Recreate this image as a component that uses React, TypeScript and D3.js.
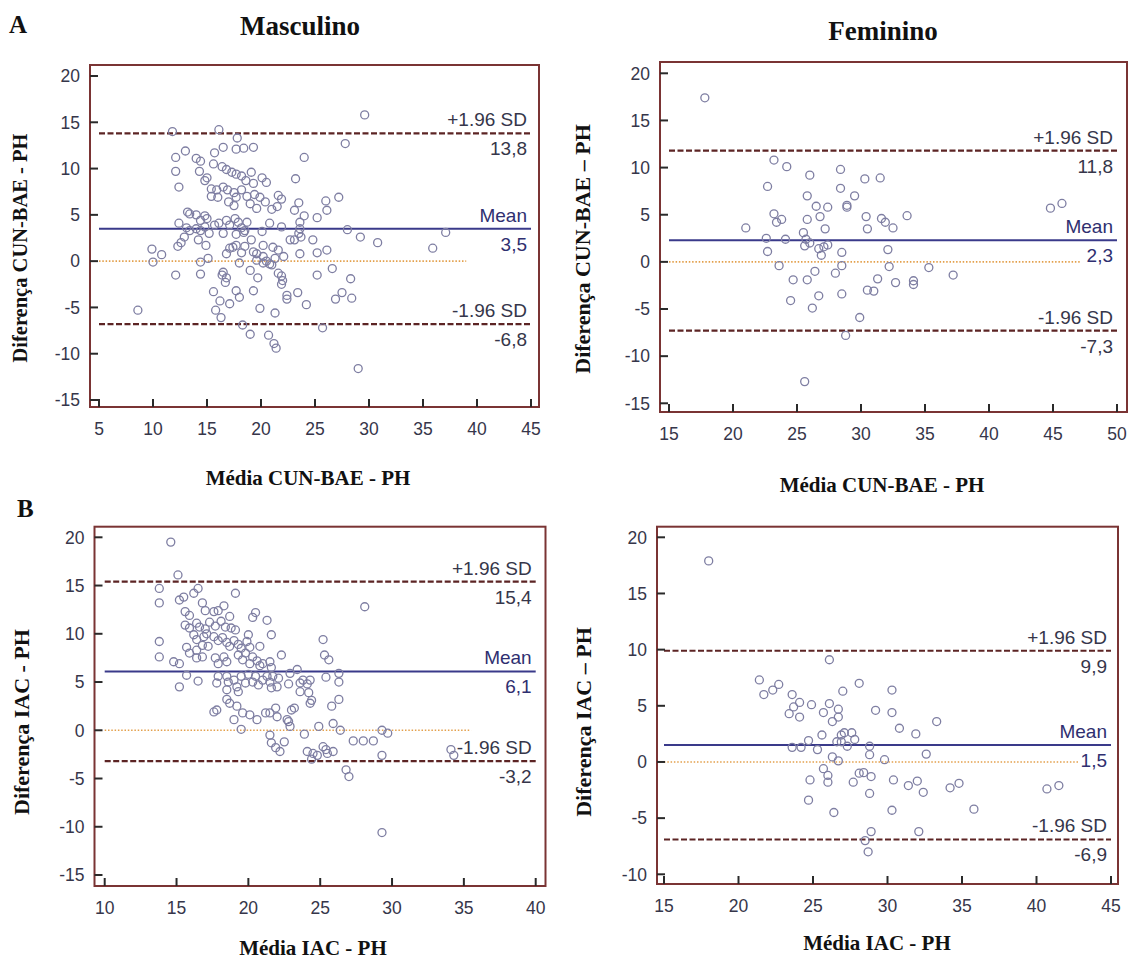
import React from "react";
import * as d3 from "d3";

// ---------- DATA ----------
const aMaleData: [number, number][] = [
  [11.8, 14.0], [16.1, 14.2], [17.8, 13.3], [27.8, 12.7], [13.0, 11.9], [12.1, 11.2], [15.7, 11.7], [16.5, 12.3],
  [17.7, 12.1], [18.4, 12.2], [19.3, 12.3], [24.0, 11.2], [12.1, 9.7], [14.0, 11.1], [14.4, 10.8], [14.3, 9.7],
  [15.6, 10.5], [16.4, 10.2], [16.8, 9.9], [17.3, 9.6], [17.7, 9.4], [19.1, 9.6], [18.2, 9.2], [18.6, 8.7],
  [19.3, 8.4], [20.1, 9.0], [20.5, 8.5], [12.4, 8.0], [14.8, 8.7], [15.0, 9.0], [15.4, 7.8], [15.9, 7.7],
  [16.5, 8.0], [16.9, 7.7], [17.5, 7.4], [18.2, 7.7], [17.7, 6.9], [15.4, 7.0], [16.0, 6.9], [17.0, 6.4],
  [17.5, 6.0], [18.7, 7.0], [19.4, 7.2], [19.9, 6.9], [20.4, 6.4], [21.0, 5.6], [21.5, 5.9], [21.6, 7.1],
  [21.9, 6.7], [23.2, 8.9], [23.5, 6.3], [23.1, 5.5], [24.0, 4.9], [23.6, 4.2], [25.2, 4.7], [26.0, 6.5],
  [26.1, 5.5], [27.2, 6.9], [19.6, 5.7], [19.0, 6.2], [13.2, 5.3], [13.4, 5.1], [14.0, 5.0], [14.4, 4.4],
  [14.8, 4.9], [15.0, 4.6], [12.4, 4.1], [13.1, 3.6], [13.4, 3.3], [14.0, 3.5], [14.4, 3.3], [14.8, 3.7],
  [15.2, 3.0], [15.7, 3.9], [16.1, 4.1], [16.5, 3.0], [16.8, 4.4], [17.1, 3.9], [17.6, 4.6], [17.9, 4.2],
  [18.2, 3.6], [18.5, 3.3], [18.7, 4.2], [17.7, 2.9], [18.4, 3.1], [20.1, 3.2], [20.8, 4.1], [21.9, 3.7],
  [23.6, 3.5], [23.5, 3.0], [23.1, 2.3], [23.7, 2.6], [24.8, 2.3], [28.0, 3.4], [9.9, 1.3], [10.8, 0.7],
  [12.3, 1.6], [12.6, 2.0], [12.9, 2.6], [14.2, 2.3], [14.9, 1.7], [15.1, 0.3], [17.1, 1.4], [16.8, 0.8],
  [17.4, 1.5], [17.7, 1.7], [18.2, 0.9], [18.5, 1.6], [19.3, 1.0], [19.6, 0.8], [19.1, 2.3], [20.2, 1.7],
  [21.1, 1.5], [21.6, 1.2], [20.2, 0.5], [19.6, 0.1], [20.5, 0.0], [21.3, 0.3], [21.0, -0.4], [22.1, 0.5],
  [22.7, 2.3], [23.6, 0.8], [25.2, 0.9], [26.1, 1.2], [26.6, -0.8], [25.2, -1.5], [10.0, -0.1], [14.4, -0.1],
  [18.0, -0.2], [20.2, -0.2], [20.8, -0.3], [12.1, -1.5], [14.4, -1.4], [16.5, -1.2], [16.4, -1.5], [16.8, -1.8],
  [16.7, -2.3], [19.0, -1.0], [19.7, -1.8], [21.6, -1.3], [21.9, -1.6], [22.0, -2.1], [21.9, -2.5], [22.4, -3.7],
  [22.4, -4.1], [23.4, -3.4], [24.2, -4.7], [26.9, -4.1], [27.5, -3.4], [15.6, -3.3], [16.2, -4.3], [17.7, -3.2],
  [18.0, -3.9], [19.3, -3.2], [17.1, -4.6], [15.8, -5.3], [16.3, -6.1], [19.9, -5.1], [21.3, -5.6], [8.6, -5.3],
  [18.3, -6.9], [19.0, -7.9], [20.7, -8.0], [25.7, -7.2], [29.6, 15.8], [29.2, 2.6], [30.8, 2.0], [35.9, 1.4],
  [37.1, 3.1], [28.3, -1.9], [28.4, -4.0], [29.0, -11.6], [21.2, -8.9], [21.4, -9.4],
];

const aFemaleData: [number, number][] = [
  [17.8, 17.4], [23.2, 10.8], [24.2, 10.1], [26.0, 9.2], [28.4, 9.8], [22.7, 8.0], [28.4, 7.8], [30.3, 8.8],
  [31.5, 8.9], [29.5, 7.0], [25.8, 7.0], [26.5, 5.9], [27.4, 5.8], [28.9, 6.0], [28.9, 5.8], [23.2, 5.1],
  [23.4, 4.2], [23.8, 4.5], [25.8, 4.5], [26.8, 4.8], [30.4, 4.8], [31.6, 4.6], [31.9, 4.2], [32.5, 3.6],
  [33.6, 4.9], [21.0, 3.6], [27.2, 3.5], [30.5, 3.5], [22.6, 2.5], [24.1, 2.4], [25.5, 3.1], [25.7, 2.4],
  [26.0, 2.0], [25.6, 1.7], [26.7, 1.4], [27.1, 1.6], [27.4, 1.8], [26.9, 0.7], [22.7, 1.1], [28.5, 1.0],
  [32.1, 1.3], [23.6, -0.4], [28.5, -0.4], [32.2, -0.5], [26.4, -1.0], [28.0, -1.2], [24.7, -1.9], [25.8, -1.9],
  [31.3, -1.8], [30.5, -3.0], [31.0, -3.1], [32.7, -2.2], [34.1, -2.0], [34.1, -2.4], [26.7, -3.6], [24.5, -4.1],
  [28.5, -3.4], [26.2, -4.9], [29.9, -5.9], [28.8, -7.8], [25.6, -12.7], [35.3, -0.6], [37.2, -1.4], [44.8, 5.7],
  [45.7, 6.2],
];

const bMaleData: [number, number][] = [
  [14.6, 19.5], [15.1, 16.1], [13.8, 14.7], [13.8, 13.2], [15.2, 13.5], [15.5, 13.8], [16.2, 14.2], [16.5, 14.7],
  [19.1, 14.2], [15.6, 12.3], [15.9, 11.9], [16.8, 13.2], [17.0, 12.4], [17.6, 12.3], [17.9, 12.4], [18.3, 12.9],
  [18.7, 11.8], [15.6, 10.9], [15.9, 10.6], [16.4, 11.1], [16.6, 10.7], [17.0, 10.5], [17.3, 11.2], [17.7, 10.8],
  [18.1, 11.3], [18.4, 10.7], [18.8, 10.6], [19.1, 10.4], [20.3, 11.7], [20.5, 12.2], [21.3, 11.4], [21.6, 9.9],
  [16.2, 9.9], [16.4, 9.4], [16.9, 9.7], [17.1, 10.0], [17.6, 9.7], [17.9, 9.3], [18.2, 9.6], [18.5, 9.1],
  [18.7, 8.7], [19.0, 9.3], [19.3, 8.9], [19.5, 8.5], [20.0, 9.9], [19.9, 9.2], [20.1, 8.6], [15.7, 8.6],
  [15.9, 8.0], [16.4, 8.3], [16.8, 8.8], [17.2, 8.7], [16.4, 7.5], [16.8, 7.6], [20.8, 8.7], [22.3, 7.8],
  [19.3, 7.8], [19.8, 8.0], [19.6, 7.3], [17.7, 7.5], [17.9, 6.9], [18.3, 7.6], [18.5, 7.1], [13.8, 9.2],
  [13.8, 7.6], [14.8, 7.1], [15.2, 6.9], [15.7, 5.7], [15.2, 4.5], [16.5, 5.1], [20.3, 7.6], [20.6, 7.2],
  [20.1, 6.9], [20.8, 6.7], [21.0, 6.9], [21.5, 7.1], [21.6, 6.5], [17.9, 5.6], [17.8, 4.9], [18.5, 5.6],
  [18.6, 5.0], [19.0, 5.2], [19.2, 4.5], [19.5, 5.6], [19.8, 4.9], [20.0, 5.8], [20.3, 5.0], [20.5, 5.6],
  [20.7, 4.7], [21.0, 5.2], [21.3, 5.6], [21.5, 5.0], [21.7, 5.6], [22.1, 5.4], [22.0, 4.5], [21.6, 4.4],
  [22.8, 4.8], [22.9, 5.9], [23.4, 6.3], [23.6, 4.9], [23.8, 5.2], [24.1, 4.8], [24.3, 5.2], [23.6, 4.0],
  [24.2, 3.9], [24.4, 3.1], [24.3, 2.8], [18.5, 4.2], [19.3, 4.0], [18.7, 2.8], [18.5, 3.2], [19.2, 2.5],
  [17.6, 1.9], [17.8, 2.1], [19.0, 1.1], [19.6, 1.8], [20.1, 1.6], [20.6, 1.1], [21.2, 1.8], [21.5, 1.8],
  [21.9, 2.3], [22.0, 1.4], [22.7, 1.1], [23.0, 2.1], [23.2, 2.3], [19.5, 0.1], [21.5, -0.5], [21.6, -1.3],
  [21.9, -1.8], [22.2, -2.2], [22.5, -1.2], [23.9, -0.4], [24.9, 0.4], [24.1, -2.2], [24.5, -2.4], [24.8, -2.6],
  [25.2, -1.7], [25.5, -2.4], [24.4, -3.0], [22.9, 0.4], [22.8, 0.9], [25.2, 9.4], [25.3, 7.8], [25.6, 7.3],
  [25.4, 5.5], [26.3, 5.9], [26.3, 5.0], [26.3, 3.2], [25.8, 2.5], [25.9, 0.7], [26.4, 0.0], [27.3, -1.1],
  [28.0, -1.1], [28.7, -1.1], [29.3, 0.0], [29.7, -0.3], [29.3, -2.6], [26.8, -4.1], [27.0, -4.8], [29.3, -10.6],
  [34.1, -2.0], [34.3, -2.6], [25.9, -2.2], [25.4, -2.0], [28.1, 12.8],
];

const bFemaleData: [number, number][] = [
  [18.0, 17.9], [26.1, 9.1], [21.4, 7.3], [21.7, 6.0], [22.3, 6.4], [22.7, 6.9], [23.6, 6.0], [24.1, 5.3],
  [23.7, 4.9], [23.4, 4.3], [24.1, 4.0], [24.9, 5.1], [26.1, 5.2], [25.7, 4.4], [26.7, 4.7], [26.7, 4.0],
  [26.3, 3.6], [27.0, 6.3], [28.1, 7.0], [29.2, 4.6], [30.3, 6.4], [30.3, 4.4], [30.8, 3.0], [25.6, 2.4],
  [26.9, 2.4], [27.1, 2.6], [27.6, 2.6], [27.8, 2.0], [26.6, 1.8], [26.9, 1.8], [27.3, 1.4], [23.6, 1.3],
  [24.2, 1.3], [24.7, 1.9], [25.3, 1.1], [28.8, 1.4], [28.8, 0.65], [29.8, 0.2], [26.3, 0.45], [26.7, 0.1],
  [25.7, -0.6], [26.0, -1.2], [26.0, -1.8], [24.8, -1.6], [27.7, -1.8], [28.1, -1.0], [28.4, -0.95], [28.9, -1.3],
  [30.4, -1.6], [28.8, -2.8], [24.7, -3.4], [26.4, -4.5], [30.3, -4.3], [31.4, -2.1], [28.9, -6.2], [28.5, -7.0],
  [28.7, -8.0], [33.3, 3.6], [31.9, 2.5], [32.6, 0.7], [32.0, -1.7], [32.4, -2.7], [34.2, -2.3], [34.8, -1.9],
  [35.8, -4.2], [40.7, -2.4], [41.5, -2.1], [32.1, -6.2],
];

// mean, +1.96 SD, -1.96 SD
const aMaleStats = [3.5, 13.8, -6.8];
const aFemaleStats = [2.3, 11.8, -7.3];
const bMaleStats = [6.1, 15.4, -3.2];
const bFemaleStats = [1.5, 9.9, -6.9];

const aMaleXTicks = [5, 10, 15, 20, 25, 30, 35, 40, 45];
const aFemaleXTicks = [15, 20, 25, 30, 35, 40, 45, 50];
const bMaleXTicks = [10, 15, 20, 25, 30, 35, 40];
const bFemaleXTicks = [15, 20, 25, 30, 35, 40, 45];
const aYTicks = [-15, -10, -5, 0, 5, 10, 15, 20];
const bMaleYTicks = [-15, -10, -5, 0, 5, 10, 15, 20];
const bFemaleYTicks = [-10, -5, 0, 5, 10, 15, 20];

// end of the dotted zero line (x units)
const zeroLineEnds = [39, 47.2, 35.5, 42.8];

// ---------- STYLE ----------
const FRAME = "#7a3434";
const TICK = "#2a2a2a";
const LABEL = "#36364a";
const POINT = "#7e7ea2";
const MEAN = "#3a3a8a";
const SD = "#5c2424";
const ZERO = "#e3a04c";
const SANS = "'Liberation Sans', Arial, sans-serif";
const SERIF = "'Liberation Serif', 'Times New Roman', serif";

const fmt = (v: number) => d3.format(".1f")(v).replace(".", ",").replace("\u2212", "-");

type PanelProps = {
  data: [number, number][];
  xDomain: [number, number];
  yDomain: [number, number];
  xRange: [number, number];
  yRange: [number, number];
  frame: { x0: number; x1: number; y0: number; y1: number };
  xTicks: number[];
  yTicks: number[];
  stats: number[];
  zeroEnd: number;
  yLabel: string;
  yLabelPos: [number, number];
  yLabelSize: number;
  xTitle: string;
  xTitlePos: [number, number];
};

function Panel(p: PanelProps) {
  const x = d3.scaleLinear().domain(p.xDomain).range(p.xRange);
  const y = d3.scaleLinear().domain(p.yDomain).range(p.yRange);
  const [mean, up, lo] = p.stats;
  const xa = x(p.xDomain[0]);
  const xb = x(p.xDomain[1]);
  const lblX = xb - 4;
  const lines = [
    { v: up, top: "+1.96 SD", color: SD, dash: "6,2.5", tc: LABEL },
    { v: mean, top: "Mean", color: MEAN, dash: undefined, tc: "#2f2f70" },
    { v: lo, top: "-1.96 SD", color: SD, dash: "6,2.5", tc: LABEL },
  ];
  const f = p.frame;
  return (
    <g>
      <line x1={xa} x2={x(p.zeroEnd)} y1={y(0)} y2={y(0)} stroke={ZERO} strokeWidth={1.6} strokeDasharray="1.5,1.8" />
      {lines.map((l, i) => (
        <line key={i} x1={xa} x2={xb} y1={y(l.v)} y2={y(l.v)} stroke={l.color}
          strokeWidth={l.dash ? 2.2 : 2} strokeDasharray={l.dash} />
      ))}
      {p.data.map((d, i) => (
        <circle key={i} cx={x(d[0])} cy={y(d[1])} r={4} fill="none" stroke={POINT} strokeWidth={1.3} />
      ))}
      {lines.map((l, i) => (
        <g key={"t" + i} fontFamily={SANS} fontSize={19} fill={l.tc} textAnchor="end">
          <text x={lblX} y={y(l.v) - 7}>{l.top}</text>
          <text x={lblX} y={y(l.v) + 22}>{fmt(l.v)}</text>
        </g>
      ))}
      <rect x={f.x0} y={f.y0} width={f.x1 - f.x0} height={f.y1 - f.y0} fill="none" stroke={FRAME} strokeWidth={2} />
      {p.yTicks.map((t) => (
        <g key={"y" + t}>
          <line x1={f.x0} x2={f.x0 + 8} y1={y(t)} y2={y(t)} stroke={TICK} strokeWidth={2} />
          <text x={f.x0 - 10} y={y(t)} dy="0.36em" textAnchor="end" fontFamily={SANS} fontSize={17.5} fill={LABEL}>{t}</text>
        </g>
      ))}
      {p.xTicks.map((t) => (
        <g key={"x" + t}>
          <line x1={x(t)} x2={x(t)} y1={f.y1} y2={f.y1 - 8} stroke={TICK} strokeWidth={2} />
          <text x={x(t)} y={f.y1 + 28} textAnchor="middle" fontFamily={SANS} fontSize={17.5} fill={LABEL}>{t}</text>
        </g>
      ))}
      <text transform={`translate(${p.yLabelPos[0]},${p.yLabelPos[1]}) rotate(-90)`} textAnchor="middle"
        fontFamily={SERIF} fontWeight="bold" fontSize={p.yLabelSize} fill="#111">{p.yLabel}</text>
      <text x={p.xTitlePos[0]} y={p.xTitlePos[1]} textAnchor="middle" fontFamily={SERIF} fontWeight="bold"
        fontSize={21} fill="#111">{p.xTitle}</text>
    </g>
  );
}

export default function App() {
  return (
    <svg width={1132} height={968} style={{ position: "absolute", left: 0, top: 0, background: "#fff" }}>
      <rect width={1132} height={968} fill="#fff" />
      <text x={9} y={33} fontFamily={SERIF} fontWeight="bold" fontSize={25} fill="#111">A</text>
      <text x={17} y={517} fontFamily={SERIF} fontWeight="bold" fontSize={25} fill="#111">B</text>
      <text x={300} y={35} textAnchor="middle" fontFamily={SERIF} fontWeight="bold" fontSize={27} fill="#111">Masculino</text>
      <text x={883} y={40} textAnchor="middle" fontFamily={SERIF} fontWeight="bold" fontSize={27} fill="#111">Feminino</text>
      <Panel data={aMaleData} xDomain={[5, 45]} yDomain={[-15, 20]} xRange={[99, 531]} yRange={[400, 76]}
        frame={{ x0: 90, x1: 539, y0: 65, y1: 407 }} xTicks={aMaleXTicks} yTicks={aYTicks} stats={aMaleStats}
        zeroEnd={zeroLineEnds[0]} yLabel="Diferença CUN-BAE - PH" yLabelPos={[27, 248]} yLabelSize={20.5}
        xTitle="Média CUN-BAE - PH" xTitlePos={[308, 485]} />
      <Panel data={aFemaleData} xDomain={[15, 50]} yDomain={[-15, 20]} xRange={[669, 1117]} yRange={[403.3, 73.3]}
        frame={{ x0: 660, x1: 1127, y0: 62, y1: 412 }} xTicks={aFemaleXTicks} yTicks={aYTicks} stats={aFemaleStats}
        zeroEnd={zeroLineEnds[1]} yLabel="Diferença CUN-BAE – PH" yLabelPos={[590, 249]} yLabelSize={22}
        xTitle="Média CUN-BAE - PH" xTitlePos={[882, 492]} />
      <Panel data={bMaleData} xDomain={[10, 40]} yDomain={[-15, 20]} xRange={[104.7, 535.7]} yRange={[875, 537.3]}
        frame={{ x0: 94.5, x1: 545.5, y0: 526.7, y1: 886 }} xTicks={bMaleXTicks} yTicks={bMaleYTicks} stats={bMaleStats}
        zeroEnd={zeroLineEnds[2]} yLabel="Diferença IAC - PH" yLabelPos={[29, 722]} yLabelSize={22}
        xTitle="Média IAC - PH" xTitlePos={[313, 955]} />
      <Panel data={bFemaleData} xDomain={[15, 45]} yDomain={[-10, 20]} xRange={[664, 1111]} yRange={[874.3, 537.3]}
        frame={{ x0: 657, x1: 1118, y0: 526.7, y1: 884 }} xTicks={bFemaleXTicks} yTicks={bFemaleYTicks} stats={bFemaleStats}
        zeroEnd={zeroLineEnds[3]} yLabel="Diferença IAC – PH" yLabelPos={[591, 722]} yLabelSize={22}
        xTitle="Média IAC - PH" xTitlePos={[877, 950]} />
    </svg>
  );
}
